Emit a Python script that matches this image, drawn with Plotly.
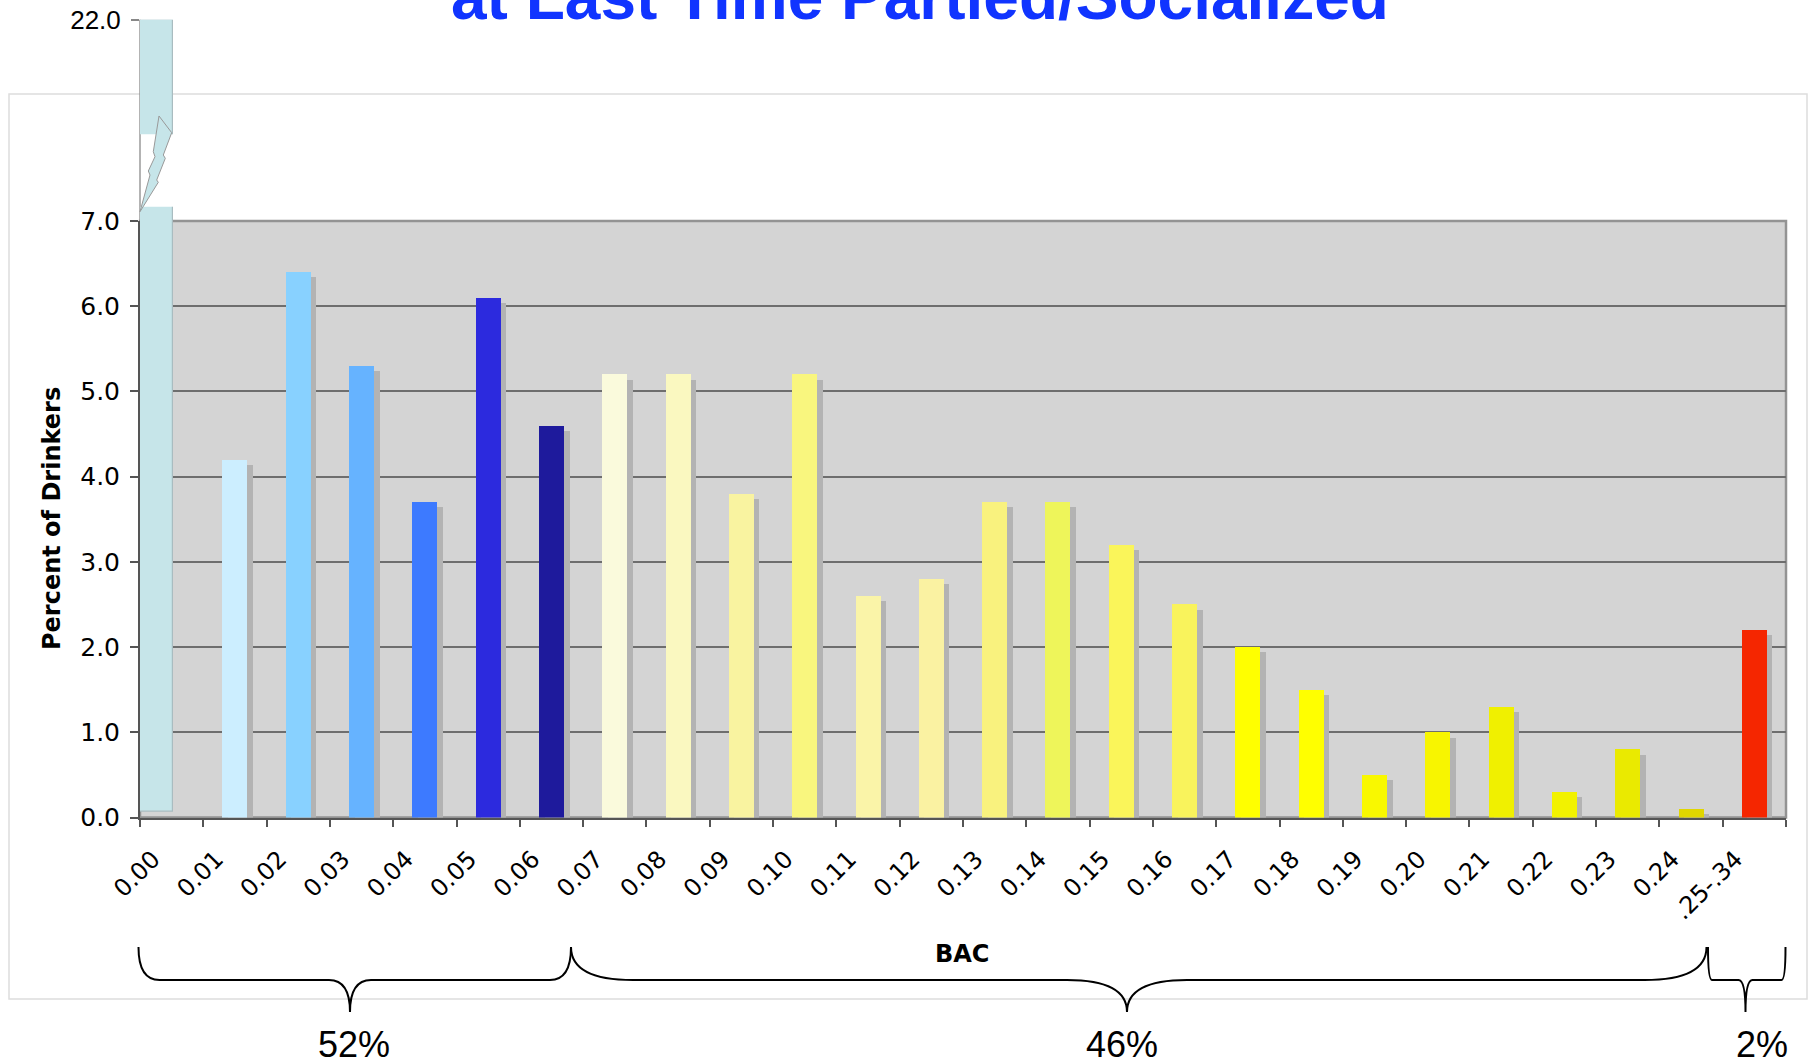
import plotly.graph_objects as go

# ---------------- data ----------------
bac_labels = ["0.00", "0.01", "0.02", "0.03", "0.04", "0.05", "0.06", "0.07", "0.08", "0.09",
              "0.10", "0.11", "0.12", "0.13", "0.14", "0.15", "0.16", "0.17", "0.18", "0.19",
              "0.20", "0.21", "0.22", "0.23", "0.24", ".25-.34"]
pct_drinkers = [22.0, 4.2, 6.4, 5.3, 3.7, 6.1, 4.6, 5.2, 5.2, 3.8,
                5.2, 2.6, 2.8, 3.7, 3.7, 3.2, 2.5, 2.0, 1.5, 0.5,
                1.0, 1.3, 0.3, 0.8, 0.1, 2.2]
bar_colors = ["#C6E5E9", "#CCEEFF", "#88D1FF", "#66B3FF", "#3D7AFF", "#2C2ADE", "#1E1A9C",
              "#FAFADC", "#FAF8C0", "#F9F3A0", "#F9F67E", "#FAF4A8", "#FAF2A2", "#F9F27E",
              "#EEF55A", "#FAF55A", "#F9F35C", "#FFFF00", "#FFFF00", "#F9F800", "#F8F500",
              "#F0F000", "#F2F200", "#EAEA00", "#E0D600", "#F52600"]
y_ticks = [0, 1, 2, 3, 4, 5, 6, 7]
group_shares = ["52%", "46%", "2%"]
title_text = "at Last Time Partied/Socialized"
y_title = "Percent of Drinkers"
x_title = "BAC"

# ---------------- geometry helpers (pixels -> paper) ----------------
W, H = 1813, 1061
def px(x):
    return x / W
def py(y):
    return 1 - y / H

PL, PR = 140, 1786          # plot area left/right
Y0, Y7 = 817.5, 221         # y pixel of 0.0 and 7.0
BREAK_TOP = 19.7            # pixel of 22.0
UPPER_BOTTOM = 134.3        # bottom of upper bar piece
LOWER_TOP = 206.7           # top of lower bar piece
n = len(bac_labels)

bar_w = 0.395
shadow_dx = 0.087
shadow_dy = 0.062

fig = go.Figure()

idx = list(range(1, n))
# shadows
fig.add_trace(go.Bar(
    x=idx, y=pct_drinkers[1:], base=-shadow_dy, width=bar_w,
    offset=-bar_w / 2 + shadow_dx,
    marker=dict(color="#B3B3B3", line=dict(width=0)),
    hoverinfo="skip", showlegend=False, xaxis="x", yaxis="y"))
# bars
fig.add_trace(go.Bar(
    x=idx, y=pct_drinkers[1:], width=bar_w, offset=-bar_w / 2,
    marker=dict(color=bar_colors[1:], line=dict(width=0)),
    showlegend=False, xaxis="x", yaxis="y"))

# broken first bar: lower piece
fig.add_trace(go.Bar(
    x=[0], y=[pct_drinkers[0]], base=0.065, width=0.526, offset=-0.5,
    marker=dict(color=bar_colors[0], line=dict(color="#A9BCC0", width=1.2)),
    showlegend=False, xaxis="x", yaxis="y3"))
# upper piece
fig.add_trace(go.Bar(
    x=[0], y=[pct_drinkers[0]], base=0, width=0.526, offset=-0.5,
    marker=dict(color=bar_colors[0], line=dict(color="#A9BCC0", width=1.2)),
    showlegend=False, xaxis="x", yaxis="y2"))

tickvals = [i - 0.5 for i in range(n)] + [n - 0.5]
ticktext = bac_labels + [""]

fig.update_layout(
    width=W, height=H,
    margin=dict(l=0, r=0, t=0, b=0, autoexpand=False),
    paper_bgcolor="white",
    plot_bgcolor="rgba(0,0,0,0)",
    barmode="overlay",
    bargap=0,
    xaxis=dict(
        domain=[px(PL), px(PR)], range=[-0.5, n - 0.5], anchor="y", automargin=False,
        tickmode="array", tickvals=tickvals, ticktext=ticktext,
        tickangle=-45, ticks="outside", ticklen=7, tickwidth=1.5, tickcolor="#555555",
        ticklabelshift=13, ticklabelstandoff=9,
        showline=True, linecolor="#555555", linewidth=2,
        showgrid=False, zeroline=False,
        tickfont=dict(family="DejaVu Sans", size=24, color="black"),
    ),
    yaxis=dict(
        domain=[py(Y0), py(Y7)], range=[0, 7], anchor="x", automargin=False,
        tickmode="array", tickvals=y_ticks, ticktext=[f"{v:.1f}" for v in y_ticks],
        ticks="outside", ticklen=8, tickwidth=1.5, tickcolor="#555555",
        ticklabelstandoff=5,
        showline=True, linecolor="#555555", linewidth=2,
        showgrid=True, gridcolor="#6E6E6E", gridwidth=1.5, zeroline=False,
        tickfont=dict(family="DejaVu Sans", size=25, color="black"),
    ),
    yaxis2=dict(
        domain=[py(UPPER_BOTTOM), py(BREAK_TOP)], range=[18, pct_drinkers[0]], anchor="x",
        automargin=False,
        tickmode="array", tickvals=[pct_drinkers[0]], ticktext=[f"{pct_drinkers[0]:.1f}"],
        ticks="outside", ticklen=8, tickwidth=1.5, tickcolor="#888888",
        ticklabelstandoff=5,
        showline=False, showgrid=False, zeroline=False,
        tickfont=dict(family="Liberation Sans", size=26, color="black"),
    ),
    yaxis3=dict(
        domain=[py(Y0), py(LOWER_TOP)], range=[0, 7 * (Y0 - LOWER_TOP) / (Y0 - Y7)],
        anchor="x", visible=False, automargin=False,
    ),
)

shapes = []
# outer chart box
shapes.append(dict(type="rect", xref="paper", yref="paper",
                   x0=px(9), x1=px(1807), y0=py(999), y1=py(94),
                   line=dict(color="#DDDDDD", width=1.5), fillcolor="rgba(0,0,0,0)", layer="below"))
# plot background with border
shapes.append(dict(type="rect", xref="paper", yref="paper",
                   x0=px(PL), x1=px(PR), y0=py(Y0), y1=py(Y7),
                   line=dict(color="#939393", width=2.5), fillcolor="#D4D4D4", layer="below"))
# axis line through break
shapes.append(dict(type="line", xref="paper", yref="paper",
                   x0=px(PL), x1=px(PL), y0=py(BREAK_TOP), y1=py(Y7),
                   line=dict(color="#8A8A8A", width=1.3), layer="below"))

# lightning bolt
bolt = [(159, 116), (171.7, 132.7), (163.3, 155), (165.3, 158.3), (156.7, 180),
        (158.3, 182.3), (140, 211.7), (150, 175), (148.3, 171), (155, 156.7), (153.3, 151.7)]
path = "M " + " L ".join(f"{px(x):.5f},{py(y):.5f}" for x, y in bolt) + " Z"
shapes.append(dict(type="path", xref="paper", yref="paper", path=path,
                   fillcolor="#C6E5E9", line=dict(color="#999999", width=1), layer="above"))

# braces
def brace(x0, x1, xc, ytop, ymid, ybot, r_end, r_cusp):
    P = lambda x, y: f"{px(x):.5f},{py(y):.5f}"
    return ("M " + P(x0, ytop) + " Q " + P(x0, ymid) + " " + P(x0 + r_end, ymid) +
            " L " + P(xc - r_cusp, ymid) + " Q " + P(xc, ymid) + " " + P(xc, ybot) +
            " Q " + P(xc, ymid) + " " + P(xc + r_cusp, ymid) +
            " L " + P(x1 - r_end, ymid) + " Q " + P(x1, ymid) + " " + P(x1, ytop))

brace_specs = [
    (138.5, 571, 350, 947, 980, 1012, 21, 21),
    (571, 1706.5, 1127, 947, 980, 1012, 62, 60),
    (1708, 1785.5, 1745.5, 947, 980, 1012, 4, 7),
]
for spec in brace_specs:
    shapes.append(dict(type="path", xref="paper", yref="paper", path=brace(*spec),
                       line=dict(color="black", width=2), fillcolor="rgba(0,0,0,0)",
                       layer="above"))

fig.update_layout(shapes=shapes)

annotations = [
    dict(text=title_text, x=px(920), y=py(34.6), xref="paper", yref="paper",
         xanchor="center", yanchor="bottom", showarrow=False,
         font=dict(family="Liberation Sans", size=64, color="#1034FF", weight="bold")),
    dict(text=y_title, x=px(52), y=py(519), xref="paper", yref="paper", textangle=-90,
         xanchor="center", yanchor="middle", showarrow=False,
         font=dict(family="DejaVu Sans", size=24, color="black", weight="bold")),
    dict(text=x_title, x=px(962), y=py(953.5), xref="paper", yref="paper",
         xanchor="center", yanchor="middle", showarrow=False,
         font=dict(family="DejaVu Sans", size=24, color="black", weight="bold")),
]
for label, xc in zip(group_shares, [354, 1122, 1762]):
    annotations.append(dict(text=label, x=px(xc), y=py(1044), xref="paper", yref="paper",
                            xanchor="center", yanchor="middle", showarrow=False,
                            font=dict(family="Liberation Sans", size=36, color="black")))
fig.update_layout(annotations=annotations)

fig.write_html("out.html", config={"displayModeBar": False},
               post_script="document.body.style.margin='0';document.body.style.overflow='hidden';")
